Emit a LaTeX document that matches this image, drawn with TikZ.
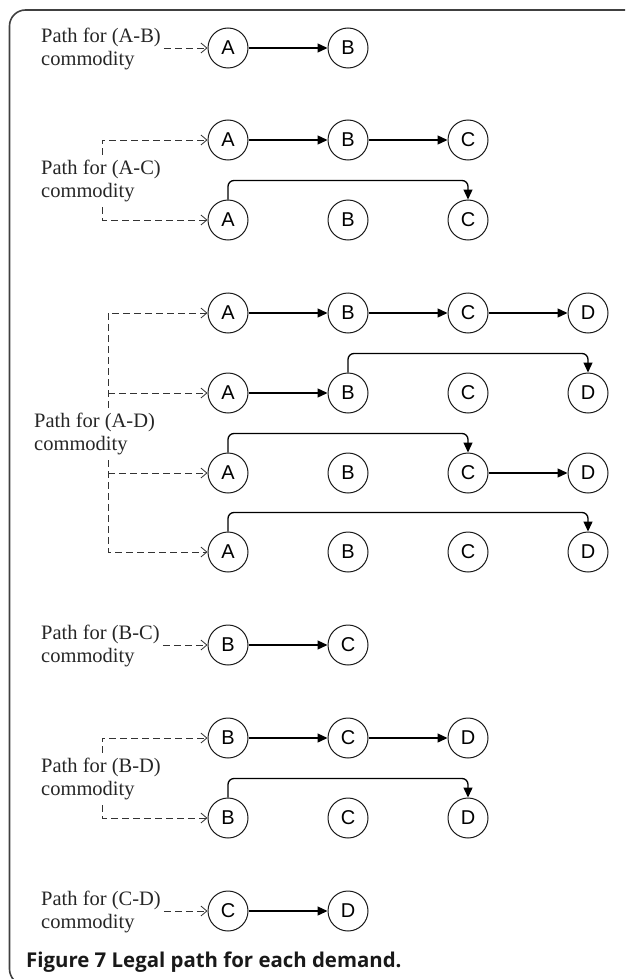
\documentclass[tikz,border=0pt]{standalone}
\usepackage{fontspec}
\setmainfont{Liberation Serif}
\newfontfamily\circfont{Liberation Sans}
\newfontfamily\capfont{Open Sans}
\usetikzlibrary{arrows.meta}
\begin{document}
\begin{tikzpicture}[x=1pt,y=-1pt,
  vtx/.style={circle,draw=black!90,line width=1pt,minimum size=40pt,inner sep=0pt,
    font=\circfont\fontsize{20}{20}\selectfont},
  lbl/.style={align=left,anchor=west,inner xsep=3pt,inner ysep=5pt,
    font=\fontsize{20.5}{23}\selectfont,text=black!85},
  feed/.style={draw=black!80,line width=0.8pt,dash pattern=on 7pt off 4pt,
    -{Straight Barb[length=6pt,width=10pt]}},
  edge/.style={draw=black,line width=1.3pt,-{Triangle[length=10pt,width=9pt]}},
  skip/.style={edge,rounded corners=6pt},
]
\useasboundingbox (0,0) rectangle (625,979);
\begin{scope}
  \clip (0,0) rectangle (625,979);
  \draw[line width=1.6pt,black!75,rounded corners=16pt] (640,10) -- (9.5,10) -- (9.5,985) -- (60,985);
\end{scope}

% columns 228, 348, 468, 588
\coordinate (bx1) at (102,0);
\coordinate (bx2) at (108,0);

% (A-B)
\node[vtx] (n1a) at (228,48) {A};
\node[vtx] (n1b) at (348,48) {B};
\node[lbl] (l1) at (38,49) {Path for (A-B)\\commodity};
\draw[feed] (l1.east |- n1a.west) -- (n1a.west);
\draw[edge] (n1a) -- (n1b);

% (A-C)
\node[vtx] (n2a) at (228,140) {A};
\node[vtx] (n2b) at (348,140) {B};
\node[vtx] (n2c) at (468,140) {C};
\node[vtx] (n3a) at (228,220) {A};
\node[vtx] (n3b) at (348,220) {B};
\node[vtx] (n3c) at (468,220) {C};
\node[lbl] (l2) at (38,181) {Path for (A-C)\\commodity};
\draw[feed] (l2.north -| bx1) |- (n2a.west);
\draw[feed] (l2.south -| bx1) |- (n3a.west);
\draw[edge] (n2a) -- (n2b);
\draw[edge] (n2b) -- (n2c);
\draw[skip] (n3a.north) -- ++(0,-19) -| (n3c.north);

% (A-D)
\node[vtx] (n4a) at (228,313) {A};
\node[vtx] (n4b) at (348,313) {B};
\node[vtx] (n4c) at (468,313) {C};
\node[vtx] (n4d) at (588,313) {D};
\node[vtx] (n5a) at (228,393) {A};
\node[vtx] (n5b) at (348,393) {B};
\node[vtx] (n5c) at (468,393) {C};
\node[vtx] (n5d) at (588,393) {D};
\node[vtx] (n6a) at (228,473) {A};
\node[vtx] (n6b) at (348,473) {B};
\node[vtx] (n6c) at (468,473) {C};
\node[vtx] (n6d) at (588,473) {D};
\node[vtx] (n7a) at (228,552) {A};
\node[vtx] (n7b) at (348,552) {B};
\node[vtx] (n7c) at (468,552) {C};
\node[vtx] (n7d) at (588,552) {D};
\node[lbl] (l3) at (31,434) {Path for (A-D)\\commodity};
\draw[feed] (l3.north -| bx2) |- (n4a.west);
\draw[feed] (l3.south -| bx2) |- (n7a.west);
\draw[feed] (n5a.west -| bx2) -- (n5a.west);
\draw[feed] (n6a.west -| bx2) -- (n6a.west);
\draw[edge] (n4a) -- (n4b);
\draw[edge] (n4b) -- (n4c);
\draw[edge] (n4c) -- (n4d);
\draw[edge] (n5a) -- (n5b);
\draw[skip] (n5b.north) -- ++(0,-19) -| (n5d.north);
\draw[skip] (n6a.north) -- ++(0,-19) -| (n6c.north);
\draw[edge] (n6c) -- (n6d);
\draw[skip] (n7a.north) -- ++(0,-19) -| (n7d.north);

% (B-C)
\node[vtx] (n8b) at (228,645) {B};
\node[vtx] (n8c) at (348,645) {C};
\node[lbl] (l4) at (38,646) {Path for (B-C)\\commodity};
\draw[feed] (l4.east |- n8b.west) -- (n8b.west);
\draw[edge] (n8b) -- (n8c);

% (B-D)
\node[vtx] (n9b) at (228,738) {B};
\node[vtx] (n9c) at (348,738) {C};
\node[vtx] (n9d) at (468,738) {D};
\node[vtx] (n10b) at (228,818) {B};
\node[vtx] (n10c) at (348,818) {C};
\node[vtx] (n10d) at (468,818) {D};
\node[lbl] (l5) at (38,779) {Path for (B-D)\\commodity};
\draw[feed] (l5.north -| bx1) |- (n9b.west);
\draw[feed] (l5.south -| bx1) |- (n10b.west);
\draw[edge] (n9b) -- (n9c);
\draw[edge] (n9c) -- (n9d);
\draw[skip] (n10b.north) -- ++(0,-19) -| (n10d.north);

% (C-D)
\node[vtx] (n11c) at (228,911) {C};
\node[vtx] (n11d) at (348,911) {D};
\node[lbl] (l6) at (38,912) {Path for (C-D)\\commodity};
\draw[feed] (l6.east |- n11c.west) -- (n11c.west);
\draw[edge] (n11c) -- (n11d);

% caption
\node[anchor=base west,inner sep=0pt,text=black!90,
  font=\capfont\bfseries\fontsize{20.4}{21}\selectfont] (cap) at (26,967)
  {Figure 7 Legal path for each demand.};
\end{tikzpicture}
\end{document}
